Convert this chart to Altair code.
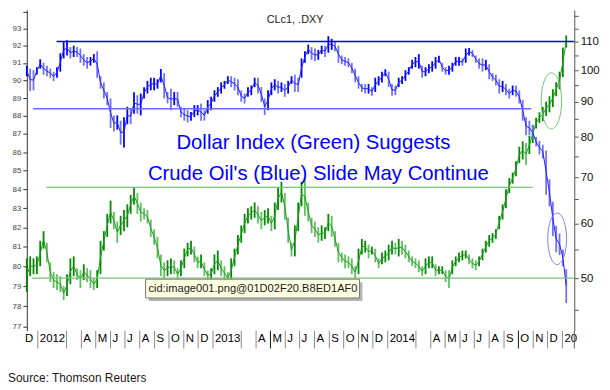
import altair as alt
import pandas as pd

# ---------------- data (weekly high / low, first week ending 2011-12-09) ----------------
START = "2011-12-09"

crude_high = [101.5, 100.5, 100.0, 101.0, 103.7, 102.5, 101.5, 100.5, 99.5, 101.0,
              105.8, 109.8, 110.5, 108.0, 108.5, 108.0, 107.5, 105.5, 104.5, 104.5,
              105.5, 106.5, 98.0, 96.0, 93.0, 91.0, 86.0, 86.0, 84.5, 85.5,
              88.5, 88.0, 92.9, 92.0, 92.5, 94.5, 96.5, 97.5, 97.5, 97.0,
              100.4, 99.0, 93.0, 94.0, 93.0, 93.0, 88.5, 88.0, 87.5, 87.0,
              89.0, 89.0, 89.5, 87.5, 90.5, 91.5, 93.5, 94.5, 96.0, 96.5,
              98.0, 98.0, 97.5, 97.0, 93.5, 92.5, 94.5, 95.0, 97.5, 97.5,
              94.5, 91.0, 93.5, 96.0, 97.0, 96.5, 96.0, 95.5, 96.5, 98.0,
              98.5, 97.5, 104.0, 106.5, 108.9, 108.0, 107.5, 107.0, 108.5, 108.5,
              112.0, 111.0, 110.0, 108.5, 105.0, 104.5, 104.0, 102.5, 100.5, 98.0,
              95.5, 95.5, 95.5, 94.5, 97.5, 98.0, 99.5, 100.3, 99.5, 95.5,
              95.0, 97.5, 98.0, 100.0, 101.0, 103.5, 104.5, 105.5, 101.5, 101.0,
              102.0, 103.0, 104.5, 104.9, 102.5, 101.0, 101.5, 102.5, 104.5, 104.5,
              104.0, 107.5, 107.7, 107.0, 105.0, 104.0, 104.0, 103.5, 102.0, 99.0,
              98.5, 97.0, 96.5, 95.5, 94.0, 95.0, 95.0, 93.5, 90.5, 85.5,
              84.5, 83.0, 80.0, 79.0, 78.0, 76.5, 69.5, 64.5, 59.5, 58.0,
              55.0, 51.5]
crude_low = [98.0, 93.3, 93.5, 98.5, 100.5, 98.5, 98.0, 97.5, 96.4, 97.5,
             99.5, 104.0, 105.0, 104.0, 104.5, 104.5, 102.5, 101.5, 100.5, 101.5,
             102.5, 97.5, 94.0, 91.0, 89.0, 82.5, 81.5, 82.0, 78.0, 77.3,
             83.5, 83.5, 86.5, 86.5, 86.0, 91.0, 92.5, 93.5, 93.5, 94.0,
             96.0, 91.0, 89.5, 87.5, 89.0, 88.5, 85.5, 84.5, 84.0, 84.5,
             85.5, 86.0, 84.5, 84.5, 86.5, 87.5, 90.0, 91.5, 92.5, 94.0,
             95.5, 94.5, 93.5, 92.0, 90.0, 89.5, 91.5, 92.0, 94.5, 92.5,
             90.0, 86.1, 87.5, 92.0, 93.5, 92.5, 93.0, 91.5, 92.5, 95.5,
             93.0, 93.0, 97.5, 102.5, 105.5, 103.5, 103.0, 103.5, 105.5, 104.5,
             106.0, 107.0, 106.5, 102.5, 102.0, 101.5, 101.0, 99.0, 96.0, 94.0,
             93.0, 92.5, 92.5, 91.8, 93.0, 95.0, 96.0, 98.0, 94.5, 91.8,
             92.0, 94.5, 95.5, 96.5, 98.5, 100.5, 101.0, 100.5, 97.5, 98.0,
             99.0, 99.5, 100.5, 102.5, 99.5, 98.5, 98.5, 99.5, 101.5, 101.5,
             101.5, 102.5, 105.0, 104.5, 102.5, 100.5, 99.5, 100.0, 97.0, 96.5,
             95.0, 92.5, 93.0, 92.0, 91.0, 92.0, 91.5, 89.5, 84.5, 80.5,
             80.5, 79.5, 77.5, 75.5, 74.5, 66.0, 63.5, 57.5, 54.5, 54.0,
             52.0, 46.0]

dxy_high = [80.4, 80.5, 80.4, 80.5, 81.3, 81.8, 81.2, 80.2, 79.7, 79.6,
            79.5, 79.0, 79.6, 80.4, 80.5, 79.9, 79.8, 80.1, 79.9, 79.8,
            79.4, 79.8, 81.3, 81.8, 82.7, 83.4, 82.8, 82.3, 82.6, 82.9,
            83.2, 83.7, 84.1, 83.8, 83.3, 83.0, 82.9, 82.4, 81.9, 81.5,
            80.6, 80.2, 80.3, 80.4, 80.3, 79.9, 80.3, 80.9, 81.2, 81.3,
            81.0, 80.5, 80.6, 80.2, 79.8, 79.9, 80.6, 80.8, 80.3, 80.0,
            79.7, 80.4, 80.9, 81.6, 82.1, 82.7, 83.0, 83.1, 83.3, 83.1,
            82.8, 82.9, 83.0, 82.6, 83.3, 84.1, 84.4, 83.8, 82.5, 81.2,
            82.1, 83.3, 84.4, 84.6, 83.3, 82.5, 82.3, 82.0, 82.1, 82.0,
            82.7, 82.6, 81.8, 81.2, 80.7, 80.6, 80.5, 80.4, 80.0, 80.9,
            81.4, 81.3, 81.1, 81.0, 80.9, 80.4, 80.7, 80.8, 81.1, 81.3,
            81.2, 81.4, 81.3, 81.1, 80.8, 80.5, 80.4, 80.3, 80.0, 80.4,
            80.5, 80.5, 80.1, 80.0, 80.0, 79.8, 79.8, 80.3, 80.5, 80.7,
            80.8, 80.8, 80.6, 80.4, 80.3, 80.5, 80.9, 81.3, 81.6, 81.7,
            81.9, 82.6, 83.2, 84.0, 84.6, 84.9, 85.5, 86.3, 86.6, 86.5,
            86.9, 87.5, 87.9, 88.2, 88.5, 88.8, 89.1, 89.5, 89.9, 90.5,
            91.9, 92.6]
dxy_low = [78.7, 79.5, 79.6, 79.6, 80.0, 80.9, 80.2, 79.2, 78.9, 78.8,
           78.7, 78.3, 78.5, 79.1, 79.5, 79.3, 78.9, 79.3, 79.2, 78.9,
           78.8, 78.9, 79.6, 80.8, 81.5, 82.2, 81.9, 81.2, 81.6, 81.8,
           82.0, 82.7, 83.2, 82.7, 82.3, 82.4, 82.2, 81.5, 81.1, 80.4,
           79.5, 79.4, 79.5, 79.6, 79.6, 79.3, 79.5, 79.9, 80.5, 80.6,
           80.2, 79.9, 79.9, 79.5, 79.3, 79.3, 79.6, 79.8, 79.5, 79.3,
           79.1, 79.2, 80.0, 80.6, 81.2, 81.7, 82.2, 82.4, 82.5, 82.2,
           81.9, 82.1, 82.2, 81.8, 81.9, 82.9, 83.3, 82.4, 81.2, 80.5,
           80.5, 81.8, 83.1, 82.6, 82.3, 81.7, 81.5, 81.2, 81.3, 81.4,
           81.8, 81.5, 81.0, 80.2, 80.2, 79.9, 79.9, 79.6, 79.4, 79.6,
           80.6, 80.7, 80.4, 80.6, 80.2, 79.9, 80.1, 80.2, 80.3, 80.6,
           80.6, 80.5, 80.6, 80.4, 80.2, 80.0, 79.9, 79.7, 79.5, 79.6,
           79.9, 79.9, 79.5, 79.6, 79.6, 79.2, 78.9, 79.6, 80.0, 80.2,
           80.3, 80.4, 80.1, 79.9, 79.8, 80.0, 80.3, 80.7, 81.0, 81.2,
           81.4, 81.9, 82.4, 83.0, 83.8, 84.3, 84.7, 85.4, 85.6, 85.3,
           85.9, 86.5, 87.3, 87.6, 87.7, 88.0, 88.2, 88.5, 89.1, 89.5,
           90.2, 91.9]

# horizontal support / resistance lines
dxy_levels = [88.4, 84.1, 79.4]
dxy_level_start = ["2011-12-22", "2012-01-19", "2011-12-19"]
dxy_level_end = ["2014-10-28", "2014-10-31", "2015-01-25"]
dxy_level_color = ["#6b6bff", "#79c479", "#79c479"]
crude_levels = [110.0]
crude_level_start = ["2012-02-09"]
crude_level_end = ["2015-01-25"]

# ellipses (centre date, value)
dxy_ellipse = {"date": ["2014-12-09"], "value": [88.84]}
crude_ellipse = {"date": ["2014-12-21"], "value": [57.0]}

# time-axis labels
tick_dates = ["2011-12-01", "2012-01-01", "2012-03-01", "2012-04-01", "2012-05-01", "2012-06-01",
              "2012-07-01", "2012-08-01", "2012-09-01", "2012-10-01", "2012-11-01", "2012-12-01",
              "2013-01-01", "2013-03-01", "2013-04-01", "2013-05-01", "2013-06-01", "2013-07-01",
              "2013-08-01", "2013-09-01", "2013-10-01", "2013-11-01", "2013-12-01",
              "2014-01-01", "2014-03-01", "2014-04-01", "2014-05-01", "2014-06-01", "2014-07-01",
              "2014-08-01", "2014-09-01", "2014-10-01", "2014-11-01", "2014-12-01", "2015-01-01"]
tick_labels = ["D", "2012", "", "A", "M", "J", "J", "A", "S", "O", "N", "D",
               "2013", "", "A", "M", "J", "J", "A", "S", "O", "N", "D",
               "2014", "", "A", "M", "J", "J", "A", "S", "O", "N", "D", "20"]
dark_ticks = ["2013-05-01", "2014-10-01"]

# ---------------- frames ----------------
dates = pd.date_range(START, periods=len(crude_high), freq="7D").strftime("%Y-%m-%d")


def bars(high, low, dark, light):
    df = pd.DataFrame({"date": dates, "high": high, "low": low})
    df["mid"] = (df["high"] + df["low"]) / 2
    mid = df["mid"]
    df["col"] = [dark if i == 0 or mid[i] >= mid[i - 1] else light for i in range(len(df))]
    return df


crude_df = bars(crude_high, crude_low, "#0000ff", "#7070ff")
dxy_df = bars(dxy_high, dxy_low, "#008a00", "#5fbf5f")

dxy_lines = pd.DataFrame({"v": dxy_levels, "s": dxy_level_start, "e": dxy_level_end, "c": dxy_level_color})
crude_lines = pd.DataFrame({"v": crude_levels, "s": crude_level_start, "e": crude_level_end})

ticks = pd.DataFrame({"date": tick_dates, "label": tick_labels})
ticks["c"] = ["#111111" if d in dark_ticks else "#8a8a8a" for d in tick_dates]
seps = ticks[ticks["date"] >= "2012-01-01"]

# ---------------- scales ----------------
W, H = 553, 324
XDOM = [alt.DateTime(year=2011, month=12, date=9), alt.DateTime(year=2015, month=1, date=25, hours=19)]
DXY_DOM = [76.80, 94.115]
CRUDE_DOM = [41.96, 122.25]
FONT = "Liberation Sans"


def X(field="date"):
    return alt.X(f"{field}:T", scale=alt.Scale(domain=XDOM), axis=None)


def X2(field):
    return alt.X2(f"{field}:T")


def Yd(field, axis=None):
    return alt.Y(f"{field}:Q", scale=alt.Scale(type="log", domain=DXY_DOM, nice=False, zero=False),
                 axis=axis, title=None)


def Yc(field, axis=None):
    return alt.Y(f"{field}:Q", scale=alt.Scale(type="log", domain=CRUDE_DOM, nice=False, zero=False),
                 axis=axis, title=None)


left_axis = alt.Axis(orient="left", values=list(range(77, 95)), format="d",
                     labelExpr="datum.value > 93.5 ? '' : datum.label",
                     grid=False, tickSize=4, labelFontSize=8, labelFont=FONT,
                     labelColor="#444444", domainColor="#333333", tickColor="#333333",
                     labelPadding=2, labelFlush=False, labelOverlap=False, title=None)
right_axis = alt.Axis(orient="right", values=list(range(45, 125, 5)), format="d",
                      labelExpr="(datum.value % 10 == 0 && datum.value <= 110) ? datum.label : ''",
                      grid=False, tickSize=4, labelFontSize=11.5, labelFont=FONT,
                      labelColor="#111111", domainColor="#555555", tickColor="#555555",
                      labelPadding=2, labelFlush=False, labelOverlap=False, title=None)

# ---------------- layers ----------------
dxy_bars = alt.Chart(dxy_df).mark_rule(strokeWidth=1.8).encode(
    x=X(), y=Yd("low", left_axis), y2="high:Q", color=alt.Color("col:N", scale=None))
crude_bars = alt.Chart(crude_df).mark_rule(strokeWidth=1.8).encode(
    x=X(), y=Yc("low", right_axis), y2="high:Q", color=alt.Color("col:N", scale=None))
dxy_path = alt.Chart(dxy_df).mark_line(strokeWidth=1, color="#1f9a1f").encode(
    x=X(), y=Yd("mid"))
crude_path = alt.Chart(crude_df).mark_line(strokeWidth=1, color="#2020ff").encode(
    x=X(), y=Yc("mid"))

dxy_hl = alt.Chart(dxy_lines).mark_rule(strokeWidth=1.3).encode(
    x=X("s"), x2=X2("e"), y=Yd("v"), color=alt.Color("c:N", scale=None))
crude_hl = alt.Chart(crude_lines).mark_rule(strokeWidth=1.6, color="#0000ff").encode(
    x=X("s"), x2=X2("e"), y=Yc("v"))

ELLIPSE = "M0,-1A0.364,1,0,1,1,0,1A0.364,1,0,1,1,0,-1Z"
dxy_ell = alt.Chart(pd.DataFrame(dxy_ellipse)).mark_point(
    shape=ELLIPSE, filled=False, strokeWidth=1, opacity=1, color="#6cc46c", size=3204).encode(
    x=X(), y=Yd("value"))
crude_ell = alt.Chart(pd.DataFrame(crude_ellipse)).mark_point(
    shape=ELLIPSE, filled=False, strokeWidth=1, opacity=1, color="#7a7aff", size=2704).encode(
    x=X(), y=Yc("value"))

sep_rules = alt.Chart(seps).mark_rule(strokeWidth=1).encode(
    x=X(), y=alt.value(324), y2=alt.value(342), color=alt.Color("c:N", scale=None))
tick_text = alt.Chart(ticks).mark_text(align="left", baseline="alphabetic", dx=2,
                                       font=FONT, fontSize=11.5, color="#000000").encode(
    x=X(), y=alt.value(335), text="label:N")
spine_ext = alt.Chart(pd.DataFrame({"k": [0]})).mark_rule(color="#555555").encode(
    x=alt.value(W), y=alt.value(H), y2=alt.value(342))


def label(text, x, y, **kw):
    return alt.Chart(pd.DataFrame({"t": [text]})).mark_text(**kw).encode(
        x=alt.value(x), y=alt.value(y), text="t:N")


title = label("CLc1, .DXY", 271, 13, font=FONT, fontSize=11, color="#222222",
              align="center", baseline="alphabetic")
head1 = label("Dollar Index (Green) Suggests", 289.5, 140, font=FONT, fontSize=20.5,
              color="#0000ff", align="center", baseline="alphabetic")
head2 = label("Crude Oil's (Blue) Slide May Continue", 294.5, 172, font=FONT,
              fontSize=20.5, color="#0000ff", align="center", baseline="alphabetic")

shadow = alt.Chart(pd.DataFrame({"k": [0]})).mark_rect(color="#b4b4b4").encode(
    x=alt.value(123), x2=alt.value(339), y=alt.value(275), y2=alt.value(294))
box = alt.Chart(pd.DataFrame({"k": [0]})).mark_rect(fill="#ffffe1", stroke="#767676", strokeWidth=1).encode(
    x=alt.value(120), x2=alt.value(336), y=alt.value(272), y2=alt.value(291))
box_text = label("cid:image001.png@01D02F20.B8ED1AF0", 123, 282, font=FONT, fontSize=11.2,
                 color="#1a1a1a", align="left", baseline="middle")
source = label("Source: Thomson Reuters", -19, 376, font=FONT, fontSize=12,
               color="#1a1a1a", align="left", baseline="alphabetic")

chart = alt.layer(
    dxy_bars, crude_bars, dxy_path, crude_path, dxy_hl, crude_hl, dxy_ell, crude_ell,
    sep_rules, tick_text, spine_ext, title, head1, head2, shadow, box, box_text, source
).resolve_scale(y="independent").properties(
    width=W, height=H,
    autosize=alt.AutoSizeParams(type="none"),
    padding={"left": 19, "top": 0, "right": 28, "bottom": 56},
    background="white",
).configure_view(stroke=None)

chart.save("out.html", embed_options={"renderer": "svg", "actions": False})
